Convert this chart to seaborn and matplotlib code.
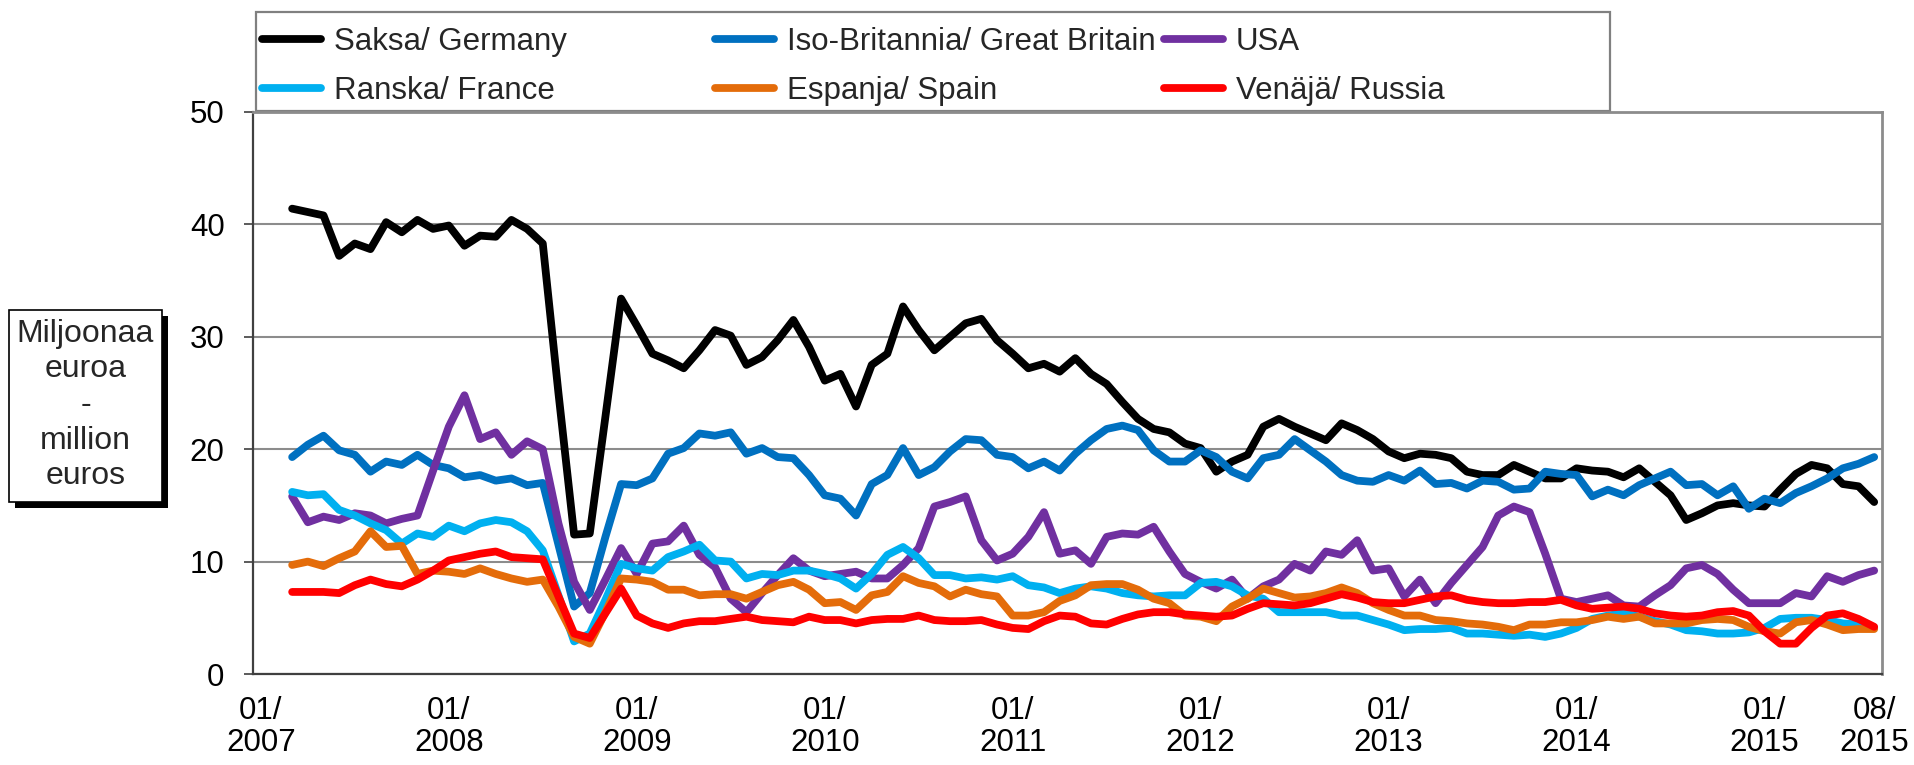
import numpy as np
import pandas as pd
import matplotlib
matplotlib.use("Agg")
import matplotlib.pyplot as plt
import seaborn as sns
from matplotlib.patches import Rectangle

sns.set_theme(style="white")
plt.rcParams["font.family"] = ["Liberation Sans", "DejaVu Sans"]

# %% data: monthly values, million euros, 03/2007 .. 08/2015
# (category axis runs 01/2007 .. 08/2015, first two months are empty)
first_idx = 2
n_months = 104

germany = [41.4, 41.1, 40.8, 37.2, 38.3, 37.8, 40.2, 39.3, 40.4, 39.6, 39.9, 38.1, 39.0, 38.9, 40.4, 39.6, 38.3,
           25.0, 12.4, 12.5, 22.9, 33.4, 31.0, 28.5, 27.9, 27.2, 28.8, 30.6, 30.1, 27.5, 28.2, 29.7, 31.5, 29.1, 26.1, 26.7, 23.8,
           27.5, 28.5, 32.7, 30.6, 28.8, 30.0, 31.2, 31.6, 29.7, 28.5, 27.2, 27.6, 26.9, 28.1, 26.7, 25.8, 24.2, 22.7, 21.8, 21.5,
           20.5, 20.1, 18.0, 18.9, 19.5, 22.0, 22.7, 22.0, 21.4, 20.8, 22.3, 21.7, 20.9, 19.8, 19.2, 19.6, 19.5, 19.2, 18.0, 17.7,
           17.7, 18.6, 18.0, 17.4, 17.4, 18.3, 18.1, 18.0, 17.5, 18.3, 17.1, 15.9, 13.7, 14.3, 15.0, 15.2, 15.0, 14.9, 16.4, 17.8,
           18.6, 18.3, 16.9, 16.7, 15.3]
britain = [19.3, 20.4, 21.2, 19.9, 19.5, 18.0, 18.9, 18.6, 19.5, 18.6, 18.3, 17.5, 17.7, 17.2, 17.4, 16.8, 17.0,
           11.5, 6.0, 7.2, 12.2, 16.9, 16.8, 17.4, 19.6, 20.1, 21.4, 21.2, 21.5, 19.6, 20.1, 19.3, 19.2, 17.7, 15.9, 15.6, 14.1,
           16.9, 17.7, 20.1, 17.7, 18.4, 19.8, 20.9, 20.8, 19.5, 19.3, 18.3, 18.9, 18.1, 19.6, 20.8, 21.8, 22.1, 21.7, 19.9, 18.9,
           18.9, 19.9, 19.3, 18.0, 17.4, 19.2, 19.5, 20.9, 19.9, 18.9, 17.7, 17.2, 17.1, 17.7, 17.2, 18.1, 16.9, 17.0, 16.5, 17.2,
           17.1, 16.4, 16.5, 18.0, 17.8, 17.7, 15.8, 16.4, 15.9, 16.8, 17.4, 18.0, 16.8, 16.9, 15.9, 16.7, 14.7, 15.6, 15.2, 16.1,
           16.7, 17.4, 18.3, 18.7, 19.3]
usa = [15.8, 13.5, 14.0, 13.7, 14.3, 14.1, 13.4, 13.8, 14.1, 18.1, 22.0, 24.8, 20.9, 21.5, 19.5, 20.7, 20.0,
       13.4, 8.2, 5.7, 8.4, 11.2, 8.9, 11.6, 11.8, 13.2, 10.6, 9.5, 6.7, 5.5, 7.2, 8.8, 10.3, 9.2, 8.7, 8.9, 9.1,
       8.5, 8.5, 9.7, 11.2, 14.9, 15.3, 15.8, 11.9, 10.1, 10.7, 12.2, 14.4, 10.7, 11.0, 9.8, 12.2, 12.5, 12.4, 13.1, 10.9,
       8.9, 8.2, 7.6, 8.4, 6.7, 7.8, 8.4, 9.8, 9.2, 10.9, 10.6, 11.9, 9.2, 9.4, 6.9, 8.4, 6.3, 8.1, 9.7, 11.3,
       14.1, 14.9, 14.4, 10.7, 6.7, 6.4, 6.7, 7.0, 6.1, 6.0, 7.0, 7.9, 9.4, 9.7, 8.9, 7.5, 6.3, 6.3, 6.3, 7.2,
       6.9, 8.7, 8.2, 8.8, 9.2]
france = [16.2, 15.9, 16.0, 14.6, 14.1, 13.4, 12.8, 11.6, 12.5, 12.2, 13.2, 12.7, 13.4, 13.7, 13.5, 12.7, 11.0,
          7.0, 2.9, 3.6, 6.6, 9.8, 9.4, 9.2, 10.4, 10.9, 11.5, 10.1, 10.0, 8.5, 8.9, 8.8, 9.2, 9.2, 8.9, 8.5, 7.6,
          8.9, 10.6, 11.3, 10.3, 8.8, 8.8, 8.5, 8.6, 8.4, 8.7, 7.9, 7.7, 7.2, 7.6, 7.8, 7.6, 7.2, 7.0, 6.9, 7.0,
          7.0, 8.1, 8.2, 7.8, 7.0, 6.7, 5.5, 5.5, 5.5, 5.5, 5.2, 5.2, 4.8, 4.4, 3.9, 4.0, 4.0, 4.1, 3.6, 3.6,
          3.5, 3.4, 3.5, 3.3, 3.6, 4.1, 4.9, 5.2, 5.4, 5.1, 4.7, 4.4, 3.9, 3.8, 3.6, 3.6, 3.7, 4.1, 4.9, 5.0,
          5.0, 4.8, 4.5, 4.4, 4.1]
spain = [9.7, 10.0, 9.6, 10.3, 10.9, 12.7, 11.3, 11.4, 8.9, 9.2, 9.1, 8.9, 9.4, 8.9, 8.5, 8.2, 8.4,
         6.0, 3.3, 2.7, 5.5, 8.5, 8.4, 8.2, 7.5, 7.5, 7.0, 7.1, 7.1, 6.7, 7.3, 7.9, 8.2, 7.5, 6.3, 6.4, 5.7,
         7.0, 7.3, 8.7, 8.1, 7.8, 6.9, 7.5, 7.1, 6.9, 5.2, 5.2, 5.5, 6.5, 7.0, 7.9, 8.0, 8.0, 7.5, 6.7, 6.3,
         5.2, 5.1, 4.7, 6.0, 6.7, 7.6, 7.2, 6.8, 6.9, 7.2, 7.7, 7.2, 6.3, 5.7, 5.2, 5.2, 4.8, 4.7, 4.5, 4.4,
         4.2, 3.9, 4.4, 4.4, 4.6, 4.6, 4.8, 5.1, 4.9, 5.1, 4.5, 4.5, 4.5, 4.8, 4.9, 4.8, 4.2, 3.8, 3.6, 4.6,
         4.8, 4.4, 3.9, 4.0, 4.0]
russia = [7.3, 7.3, 7.3, 7.2, 7.9, 8.4, 8.0, 7.8, 8.4, 9.2, 10.1, 10.4, 10.7, 10.9, 10.4, 10.3, 10.2,
          6.9, 3.6, 3.2, 5.4, 7.6, 5.2, 4.5, 4.1, 4.5, 4.7, 4.7, 4.9, 5.1, 4.8, 4.7, 4.6, 5.1, 4.8, 4.8, 4.5,
          4.8, 4.9, 4.9, 5.2, 4.8, 4.7, 4.7, 4.8, 4.4, 4.1, 4.0, 4.7, 5.2, 5.1, 4.5, 4.4, 4.9, 5.3, 5.5, 5.5,
          5.3, 5.2, 5.1, 5.2, 5.8, 6.3, 6.2, 6.1, 6.3, 6.7, 7.1, 6.8, 6.4, 6.3, 6.3, 6.6, 6.9, 7.0, 6.6, 6.4,
          6.3, 6.3, 6.4, 6.4, 6.6, 6.1, 5.8, 5.9, 6.0, 5.8, 5.4, 5.2, 5.1, 5.2, 5.5, 5.6, 5.2, 3.8, 2.7, 2.7,
          4.1, 5.2, 5.4, 4.9, 4.2]

countries = ["Saksa/ Germany", "Iso-Britannia/ Great Britain", "USA",
             "Ranska/ France", "Espanja/ Spain", "Venäjä/ Russia"]
series = [germany, britain, usa, france, spain, russia]
colors = ["#000000", "#0070C0", "#7030A0", "#00B0F0", "#E46C0A", "#FF0000"]

tick_idx = [0, 12, 24, 36, 48, 60, 72, 84, 96, 103]
tick_labels = ["01/\n2007", "01/\n2008", "01/\n2009", "01/\n2010", "01/\n2011",
               "01/\n2012", "01/\n2013", "01/\n2014", "01/\n2015", "08/\n2015"]

# long format for seaborn
x = np.arange(first_idx, first_idx + len(germany))
df = pd.concat([pd.DataFrame({"month": x, "value": v, "country": c})
                for c, v in zip(countries, series)], ignore_index=True)

# %% figure
W, H = 1914, 765
fig = plt.figure(figsize=(W / 100, H / 100), dpi=100)
ax = fig.add_axes([253 / W, 1 - 674 / H, (1882 - 253) / W, (674 - 112) / H])

sns.lineplot(data=df, x="month", y="value", hue="country", hue_order=countries,
             palette=colors, estimator=None, linewidth=5.6, ax=ax,
             solid_capstyle="round", solid_joinstyle="round")

handles, labels = ax.get_legend_handles_labels()
ax.get_legend().remove()

ax.set_xlim(-0.5, n_months - 0.5)
ax.set_ylim(0, 50)
ax.set_yticks(range(0, 51, 10))
ax.set_xticks(tick_idx)
ax.set_xticklabels(tick_labels)
ax.set_xlabel("")
ax.set_ylabel("")

fs = 22.5
ax.tick_params(axis="y", direction="out", length=6.5, width=1.2, color="#404040",
               pad=14, labelsize=fs, left=True)
ax.tick_params(axis="x", length=0, pad=16, labelsize=fs)
for t in ax.get_xticklabels():
    t.set_linespacing(1.07)
for t in ax.get_yticklabels() + ax.get_xticklabels():
    t.set_color("black")

ax.yaxis.grid(True, color="#8c8c8c", linewidth=1.5)
ax.xaxis.grid(False)
ax.set_axisbelow(True)
for side in ["left", "bottom"]:
    ax.spines[side].set_color("#404040")
    ax.spines[side].set_linewidth(1.6)
for side in ["top", "right"]:
    ax.spines[side].set_color("#8c8c8c")
    ax.spines[side].set_linewidth(2.0)

# legend: frame plus three columns on a fixed grid, like the original
fig.add_artist(Rectangle((256 / W, 1 - 111 / H), (1610 - 256) / W, 99 / H,
                         transform=fig.transFigure, facecolor="white",
                         edgecolor="#808080", linewidth=1.6, zorder=0))
col_x = [262, 715, 1164]
for j, cx in enumerate(col_x):
    fig.legend([handles[j], handles[j + 3]], [labels[j], labels[j + 3]],
               loc="upper left", bbox_to_anchor=(cx / W, 1 - 27 / H),
               frameon=False, borderpad=0, borderaxespad=0, fontsize=fs,
               handlelength=1.9, handletextpad=0.4, labelspacing=0.6)

# y label box with shadow
fig.add_artist(Rectangle((15 / W, 1 - 508 / H), 153 / W, 192 / H,
                         transform=fig.transFigure, facecolor="black",
                         edgecolor="black", linewidth=0))
fig.add_artist(Rectangle((9 / W, 1 - 502 / H), 153 / W, 192 / H,
                         transform=fig.transFigure, facecolor="white",
                         edgecolor="black", linewidth=1.2))
fig.text(85.5 / W, 1 - 405 / H, "Miljoonaa\neuroa\n-\nmillion\neuros",
         ha="center", va="center", fontsize=23, linespacing=1.24)

fig.savefig("out.png", dpi=100)
